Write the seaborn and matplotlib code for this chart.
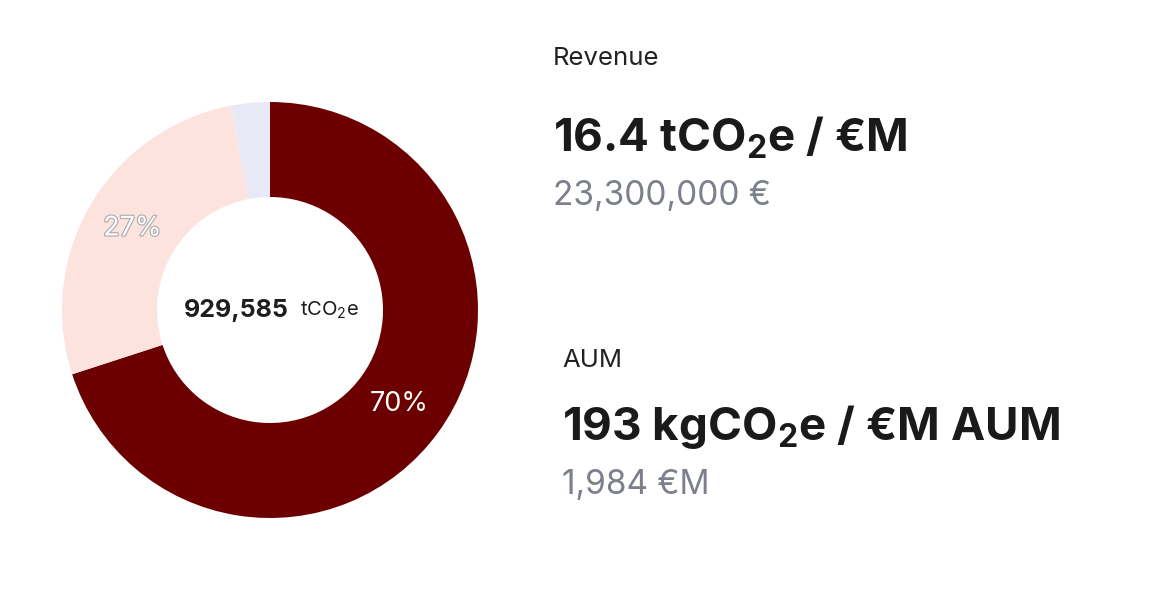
import matplotlib.pyplot as plt
import matplotlib.patheffects as pe
import seaborn as sns

# donut shares (clockwise from top)
segments = ["Share A", "Share B", "Share C"]
shares = [70, 27, 3]
seg_colors = ["#6c0000", "#fde3de", "#e7e9f6"]
total_value = "929,585"
total_unit = "tCO$_\\mathrm{2}$e"

# right side key figures
kpi_titles = ["Revenue", "AUM"]
kpi_values = ["16.4 tCO$_\\mathbf{2}$e / €M", "193 kgCO$_\\mathbf{2}$e / €M AUM"]
kpi_bases = ["23,300,000 €", "1,984 €M"]

sns.set_theme(style="white")
plt.rcParams["font.family"] = ["Inter", "DejaVu Sans"]
plt.rcParams["mathtext.fontset"] = "custom"
plt.rcParams["mathtext.rm"] = "Inter"
plt.rcParams["mathtext.bf"] = "Inter:bold"

W, H = 1150, 598
fig = plt.figure(figsize=(W / 100, H / 100), dpi=100)
fig.patch.set_facecolor("white")

# donut axes: centre (270, 310) px, radius 208 px
cx, cy, r = 270, 310, 208
ax = fig.add_axes([(cx - r) / W, (H - cy - r) / H, 2 * r / W, 2 * r / H])


def fmt(p):
    return f"{p:.0f}%" if p >= 5 else ""


wedges, texts, autotexts = ax.pie(
    shares, colors=seg_colors, startangle=90, counterclock=False,
    radius=1, autopct=fmt, pctdistance=0.77,
    wedgeprops=dict(width=1 - 113 / 208, linewidth=0),
)
ax.set_xlim(-1, 1)
ax.set_ylim(-1, 1)
ax.set_aspect("equal")
ax.axis("off")

autotexts[0].set_color("white")
autotexts[0].set_fontsize(19.5)
autotexts[1].set_color("white")
autotexts[1].set_fontsize(19.5)
autotexts[1].set_path_effects([pe.withStroke(linewidth=1.6, foreground="#a9a9ae")])

# centre label
ax.text(19 / r, 0.0, total_value, ha="right", va="center", fontsize=18,
        fontweight="bold", color="#1e1e1e")
ax.text(30 / r, 0.0, total_unit, ha="left", va="center", fontsize=14.5, color="#1e1e1e")

# right-hand KPI blocks
blocks = [(553, 65, 151, 205), (562, 367, 440, 494)]
for (x, yt, yv, yb), t, v, b in zip(blocks, kpi_titles, kpi_values, kpi_bases):
    fig.text(x / W, (H - yt) / H, t, fontsize=18.5, color="#222222", va="baseline")
    fig.text(x / W, (H - yv) / H, v, fontsize=33, fontweight="bold",
             color="#1a1a1a", va="baseline")
    fig.text(x / W, (H - yb) / H, b, fontsize=24, color="#7b808b", va="baseline")

fig.savefig("out.png", dpi=100, facecolor="white")
